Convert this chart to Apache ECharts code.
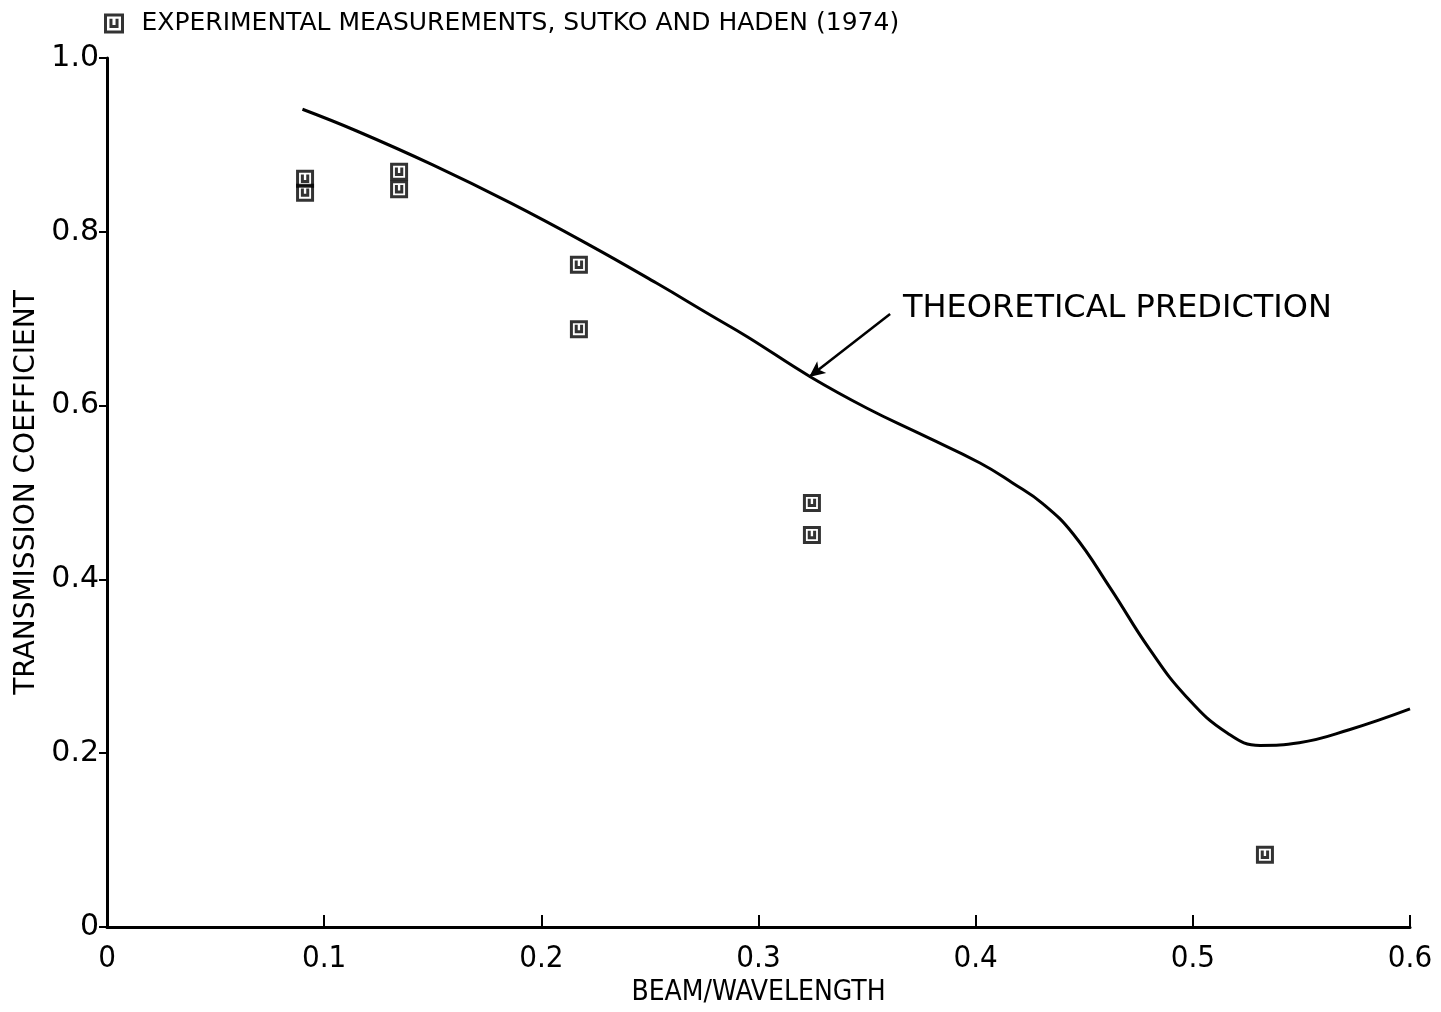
<!DOCTYPE html>
<html>
<head>
<meta charset="utf-8">
<title>Transmission coefficient vs beam/wavelength</title>
<script src="https://cdn.jsdelivr.net/npm/echarts@6/dist/echarts.min.js"></script>
<style>
  html, body { margin: 0; padding: 0; background: #fff; }
  #chart { width: 1441px; height: 1012px; }
</style>
</head>
<body>
<div id="chart"></div>
<script>
// Theoretical prediction curve (beam/wavelength, transmission coefficient)
const theoryX = [0.090, 0.115, 0.150, 0.186, 0.222, 0.253, 0.278, 0.295, 0.324, 0.350, 0.374,
                 0.402, 0.417, 0.431, 0.445, 0.462, 0.480, 0.497, 0.516, 0.531, 0.549, 0.572, 0.600];
const theoryY = [0.941, 0.916, 0.877, 0.833, 0.785, 0.741, 0.704, 0.679, 0.633, 0.597, 0.568,
                 0.534, 0.511, 0.487, 0.452, 0.390, 0.320, 0.265, 0.223, 0.209, 0.212, 0.227, 0.251];

// Experimental measurements, Sutko and Haden (1974)
const measX = [0.0912, 0.0912, 0.1345, 0.1345, 0.2173, 0.2173, 0.3246, 0.3246, 0.5332];
const measY = [0.861, 0.845, 0.869, 0.849, 0.762, 0.688, 0.488, 0.451, 0.083];

// Axis ticks
const xTicks = [0, 0.1, 0.2, 0.3, 0.4, 0.5, 0.6];
const yTicks = [0, 0.2, 0.4, 0.6, 0.8, 1.0];

const legendText = 'EXPERIMENTAL MEASUREMENTS, SUTKO AND HADEN (1974)';
const noteText = 'THEORETICAL PREDICTION';
// Note anchor and the arrow pointing from it to the curve
const notePoint = [0.3665, 0.711];
const arrowFrom = [0.3606, 0.7054];
const arrowTo = [0.3233, 0.633];

const narrow = '"DejaVu Sans Condensed", "Liberation Sans Narrow", "DejaVu Sans", sans-serif';
const plain = '"DejaVu Sans", sans-serif';

// Square marker with a small "u" inside
const markerPath = 'path://M0,0H14V14H0Z M4.5,3V9.5H9.5V3';

const chart = echarts.init(document.getElementById('chart'), null, { renderer: 'canvas' });

chart.setOption({
  animation: false,
  backgroundColor: '#ffffff',
  grid: { left: 107, right: 31, top: 58, bottom: 85, containLabel: false },
  legend: {
    left: 99,
    top: 6,
    itemWidth: 17,
    itemHeight: 17,
    data: [{ name: legendText, icon: markerPath }],
    itemStyle: { color: 'transparent', borderColor: '#000', borderWidth: 3 },
    textStyle: { fontFamily: plain, fontSize: 25, color: '#000', padding: [0, 0, 0, 14] },
    selectedMode: false
  },
  xAxis: {
    type: 'value',
    min: 0,
    max: 0.6,
    interval: 0.1,
    name: 'BEAM/WAVELENGTH',
    nameLocation: 'middle',
    nameGap: 52,
    nameTextStyle: { fontFamily: narrow, fontSize: 28, color: '#000' },
    axisLine: { show: true, onZero: false, lineStyle: { color: '#000', width: 3 } },
    axisTick: { show: true, inside: true, length: 12, lineStyle: { color: '#000', width: 2 } },
    axisLabel: {
      fontFamily: narrow, fontSize: 31, color: '#000', margin: 16,
      formatter: v => {
        const i = xTicks.findIndex(t => Math.abs(t - v) < 1e-9);
        return i === 0 ? '0' : (i > 0 ? xTicks[i].toFixed(1) : '');
      }
    },
    splitLine: { show: false }
  },
  yAxis: {
    type: 'value',
    min: 0,
    max: 1.0,
    interval: 0.2,
    name: 'TRANSMISSION COEFFICIENT',
    nameLocation: 'middle',
    nameGap: 66,
    nameTextStyle: { fontFamily: plain, fontSize: 28, color: '#000' },
    axisLine: { show: true, lineStyle: { color: '#000', width: 3 } },
    axisTick: { show: true, inside: false, length: 8, lineStyle: { color: '#000', width: 2 } },
    axisLabel: {
      fontFamily: plain, fontSize: 30, color: '#000', margin: 8,
      formatter: v => {
        const i = yTicks.findIndex(t => Math.abs(t - v) < 1e-9);
        return i === 0 ? '0' : (i > 0 ? yTicks[i].toFixed(1) : '');
      }
    },
    splitLine: { show: false }
  },
  series: [
    {
      name: 'THEORY',
      type: 'line',
      data: theoryX.map((x, i) => [x, theoryY[i]]),
      smooth: 0.45,
      showSymbol: false,
      lineStyle: { color: '#000', width: 3 },
      markLine: {
        silent: true,
        symbol: ['none', 'arrow'],
        symbolSize: [11, 16],
        label: { show: false },
        lineStyle: { color: '#000', width: 2.5, type: 'solid' },
        data: [[{ coord: arrowFrom }, { coord: arrowTo }]]
      },
      markPoint: {
        silent: true,
        symbol: 'circle',
        symbolSize: 0,
        data: [{ coord: notePoint }],
        label: {
          show: true,
          position: 'right',
          distance: 0,
          formatter: noteText,
          fontFamily: plain,
          fontSize: 32,
          color: '#000'
        }
      }
    },
    {
      name: legendText,
      type: 'scatter',
      data: measX.map((x, i) => [x, measY[i]]),
      symbol: markerPath,
      symbolSize: 15,
      itemStyle: { color: 'transparent', borderColor: '#000', borderWidth: 3 }
    }
  ]
});
</script>
</body>
</html>
